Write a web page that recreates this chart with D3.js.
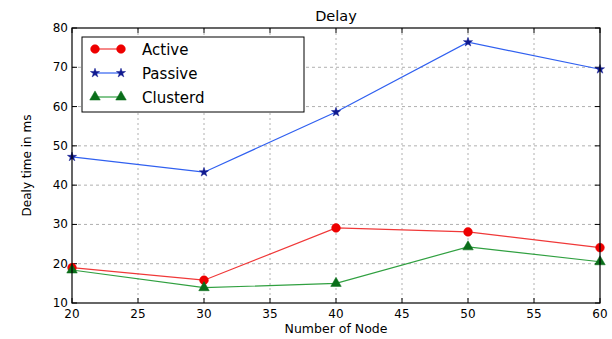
<!DOCTYPE html>
<html>
<head>
<meta charset="utf-8">
<script src="https://cdn.jsdelivr.net/npm/d3@7"></script>
<style>
	body { margin: 0; background: #fff; }
	text { font-family: "DejaVu Sans", sans-serif; fill: #000; }
</style>
</head>
<body>
<svg width="612" height="339"></svg>
<script>
var nodes = [20, 30, 40, 50, 60];
var active = [19.0, 15.8, 29.1, 28.1, 24.1];
var passive = [47.2, 43.3, 58.6, 76.4, 69.5];
var clusterd = [18.4, 13.9, 15.0, 24.3, 20.5];
var xTicks = [20, 25, 30, 35, 40, 45, 50, 55, 60];
var yTicks = [10, 20, 30, 40, 50, 60, 70, 80];

var series = [
	{ name: "Active", values: active, color: "#f03838", mark: "#ee0000", marker: "circle" },
	{ name: "Passive", values: passive, color: "#3060f0", mark: "#101a90", marker: "star" },
	{ name: "Clusterd", values: clusterd, color: "#30a040", mark: "#0a6e1a", marker: "triangle" }
];

var svg = d3.select("svg"),
	pLeft = 72, pRight = 600, pTop = 28, pBottom = 303;

var x = d3.scaleLinear().domain([20, 60]).range([pLeft, pRight]);
var y = d3.scaleLinear().domain([10, 80]).range([pBottom, pTop]);

// grid
svg.append("g")
	.selectAll("line")
	.data(xTicks.slice(1, -1))
	.enter().append("line")
	.attr("x1", d => x(d)).attr("x2", d => x(d))
	.attr("y1", pTop).attr("y2", pBottom)
	.attr("stroke", "#b0b0b0").attr("stroke-dasharray", "2,3");
svg.append("g")
	.selectAll("line")
	.data(yTicks.slice(1, -1))
	.enter().append("line")
	.attr("x1", pLeft).attr("x2", pRight)
	.attr("y1", d => y(d)).attr("y2", d => y(d))
	.attr("stroke", "#b0b0b0").attr("stroke-dasharray", "3,3");

// inward ticks
var tk = svg.append("g").attr("stroke", "#000");
xTicks.forEach(function(t) {
	tk.append("line").attr("x1", x(t)).attr("x2", x(t)).attr("y1", pBottom).attr("y2", pBottom - 5);
	tk.append("line").attr("x1", x(t)).attr("x2", x(t)).attr("y1", pTop).attr("y2", pTop + 5);
});
yTicks.forEach(function(t) {
	tk.append("line").attr("x1", pLeft).attr("x2", pLeft + 5).attr("y1", y(t)).attr("y2", y(t));
	tk.append("line").attr("x1", pRight).attr("x2", pRight - 5).attr("y1", y(t)).attr("y2", y(t));
});

svg.append("g").selectAll("text")
	.data(xTicks).enter().append("text")
	.attr("x", d => x(d)).attr("y", pBottom + 15)
	.attr("text-anchor", "middle").style("font-size", "12px")
	.text(d => d);
svg.append("g").selectAll("text")
	.data(yTicks).enter().append("text")
	.attr("x", pLeft - 4).attr("y", d => y(d) + 4)
	.attr("text-anchor", "end").style("font-size", "12px")
	.text(d => d);

var line = d3.line().x((d, i) => x(nodes[i])).y(d => y(d));

var sym = {
	circle: d3.symbol().type(d3.symbolCircle).size(60),
	star: d3.symbol().type(d3.symbolStar).size(26),
	triangle: d3.symbol().type(d3.symbolTriangle).size(48)
};

var plot = svg.append("g");
series.forEach(function(s) {
	plot.append("path")
		.attr("d", line(s.values))
		.attr("fill", "none").attr("stroke", s.color).attr("stroke-width", 1.2);
	plot.selectAll(null)
		.data(s.values).enter().append("path")
		.attr("d", sym[s.marker]())
		.attr("transform", (d, i) => "translate(" + x(nodes[i]) + "," + y(d) + ")")
		.attr("fill", s.mark).attr("stroke", s.mark).attr("stroke-width", 0.5);
});

svg.append("rect")
	.attr("x", pLeft).attr("y", pTop)
	.attr("width", pRight - pLeft).attr("height", pBottom - pTop)
	.attr("fill", "none").attr("stroke", "#000").attr("stroke-width", 1.2);

// legend
var lg = svg.append("g");
lg.append("rect")
	.attr("x", 82).attr("y", 37).attr("width", 222).attr("height", 75)
	.attr("fill", "#fff").attr("stroke", "#000");
series.forEach(function(s, i) {
	var yy = 49 + i * 24;
	lg.append("line").attr("x1", 95).attr("x2", 121).attr("y1", yy).attr("y2", yy)
		.attr("stroke", s.color).attr("stroke-width", 1.2);
	[95, 121].forEach(function(xx) {
		lg.append("path").attr("d", sym[s.marker]())
			.attr("transform", "translate(" + xx + "," + yy + ")")
			.attr("fill", s.mark).attr("stroke", s.mark).attr("stroke-width", 0.5);
	});
	lg.append("text").attr("x", 142).attr("y", yy + 5.5)
		.style("font-size", "15px").text(s.name);
});

svg.append("text").attr("x", (pLeft + pRight) / 2).attr("y", 21)
	.attr("text-anchor", "middle").style("font-size", "14.5px").text("Delay");
svg.append("text").attr("x", (pLeft + pRight) / 2).attr("y", 333)
	.attr("text-anchor", "middle").style("font-size", "12.5px").text("Number of Node");
svg.append("text")
	.attr("transform", "translate(31," + (pTop + pBottom) / 2 + ") rotate(-90)")
	.attr("text-anchor", "middle").style("font-size", "12px").text("Dealy time in ms");
</script>
</body>
</html>
